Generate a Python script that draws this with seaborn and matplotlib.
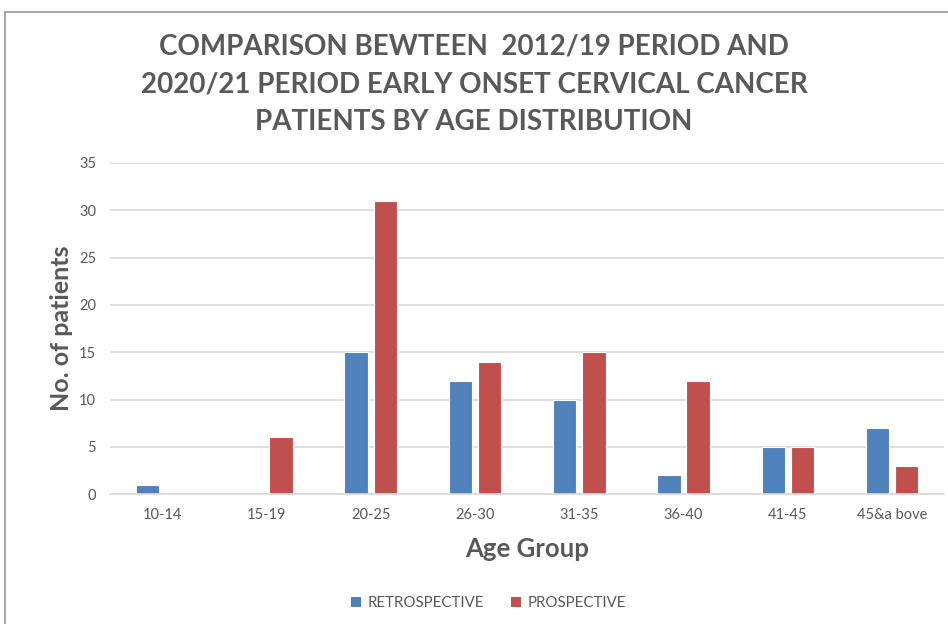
import pandas as pd
import matplotlib.pyplot as plt
import seaborn as sns
from matplotlib.patches import Rectangle, Patch

# Values
age_groups = ["10-14", "15-19", "20-25", "26-30", "31-35", "36-40", "41-45", "45&a bove"]
retrospective = [1, 0, 15, 12, 10, 2, 5, 7]
prospective = [0, 6, 31, 14, 15, 12, 5, 3]
series_names = ["RETROSPECTIVE", "PROSPECTIVE"]
colors = ["#4F81BD", "#C0504D"]

df = pd.DataFrame({
    "Age Group": age_groups * 2,
    "Patients": retrospective + prospective,
    "Series": [series_names[0]] * len(age_groups) + [series_names[1]] * len(age_groups),
})

sns.set_style("white")
plt.rcParams["font.family"] = ["Lato", "DejaVu Sans"]
text_gray = "#595959"

fig = plt.figure(figsize=(9.48, 6.24), dpi=100)
ax = fig.add_axes([0.116, 0.208, 0.880, 0.531])

sns.barplot(
    data=df, x="Age Group", y="Patients", hue="Series",
    order=age_groups, hue_order=series_names, palette=colors,
    width=0.56, gap=0.2, errorbar=None, ax=ax,
    edgecolor="white", linewidth=0.8, saturation=1,
)

ax.set_ylim(0, 35)
ax.set_yticks(range(0, 36, 5))
ax.yaxis.grid(True, color="#d9d9d9", linewidth=1.2)
ax.set_axisbelow(True)
for side in ["top", "right", "left"]:
    ax.spines[side].set_visible(False)
ax.spines["bottom"].set_color("#d9d9d9")
ax.spines["bottom"].set_linewidth(1.2)
ax.tick_params(axis="both", length=0, labelsize=10.5, labelcolor=text_gray, pad=10)

ax.set_xlabel("Age Group", fontsize=18.5, fontweight="bold", color=text_gray, labelpad=11)
ax.set_ylabel("No. of patients", fontsize=18, fontweight="bold", color=text_gray, labelpad=4)

fig.text(0.5, 1 - 84 / 624,
         "COMPARISON BEWTEEN  2012/19 PERIOD AND\n2020/21 PERIOD EARLY ONSET CERVICAL CANCER\nPATIENTS BY AGE DISTRIBUTION",
         ha="center", va="center", fontsize=20, fontweight="bold", color=text_gray,
         linespacing=1.55)

ax.get_legend().remove()
handles = [Patch(facecolor=c, edgecolor="none") for c in colors]
fig.legend(handles, series_names, loc="center", bbox_to_anchor=(0.515, 0.033),
           ncol=2, frameon=False, fontsize=10.8, handlelength=0.7, handleheight=0.7,
           columnspacing=1.8, handletextpad=0.4, labelcolor=text_gray)

# outer chart frame
fig.patches.append(Rectangle((5 / 948, -0.05), 1.1, 1.05 - 12 / 624, transform=fig.transFigure,
                             fill=False, edgecolor="#a6a6a6", linewidth=1.5))

fig.savefig("out.png", dpi=100)
